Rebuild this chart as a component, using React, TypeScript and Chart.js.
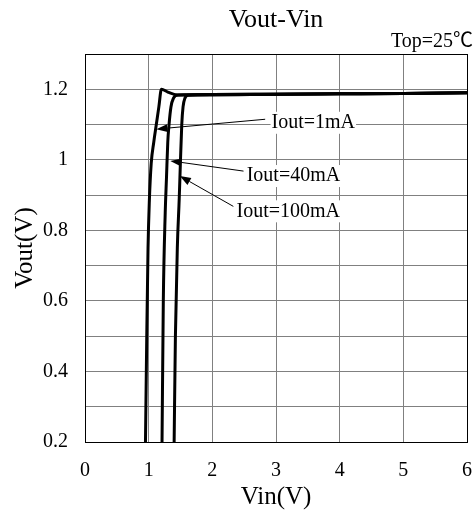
import { useEffect, useRef } from 'react';
import { Chart, registerables } from 'chart.js';

Chart.register(...registerables);

const FONT = "'Liberation Serif', 'Times New Roman', serif";
const CJK_FONT = "'Liberation Serif', 'Noto Sans CJK SC', serif";

const TITLE = 'Vout-Vin';
const CONDITION = 'Top=25℃';
const X_TITLE = 'Vin(V)';
const Y_TITLE = 'Vout(V)';
const X_MIN = 0;
const X_MAX = 6;
const Y_MIN = 0.2;
const Y_MAX = 1.3;
const Y_TICK_LABELS = [0.2, 0.4, 0.6, 0.8, 1, 1.2];

const SERIES_NAMES = ['Iout=1mA', 'Iout=40mA', 'Iout=100mA'];

const VIN_1MA = [0.95, 0.97, 0.99, 1.01, 1.04, 1.08, 1.12, 1.16, 1.2, 1.3, 1.45, 2, 3, 4, 5, 6];
const VOUT_1MA = [0.2, 0.5, 0.75, 0.88, 0.99, 1.05, 1.1, 1.15, 1.2, 1.192, 1.184, 1.184, 1.186, 1.187, 1.188, 1.19];

const VIN_40MA = [1.21, 1.23, 1.26, 1.28, 1.3, 1.32, 1.35, 1.39, 1.46, 2, 3, 4, 5, 6];
const VOUT_40MA = [0.2, 0.6, 0.85, 0.95, 1.05, 1.1, 1.15, 1.175, 1.184, 1.185, 1.186, 1.187, 1.188, 1.19];

const VIN_100MA = [1.4, 1.42, 1.45, 1.48, 1.5, 1.52, 1.54, 1.57, 1.62, 2, 3, 4, 5, 6];
const VOUT_100MA = [0.2, 0.5, 0.75, 0.89, 1.0, 1.1, 1.15, 1.175, 1.183, 1.185, 1.186, 1.187, 1.188, 1.19];

// Annotation anchors (data coordinates)
const LABEL_X = [2.93, 2.54, 2.38];
const LABEL_Y = [1.105, 0.954, 0.854];
const TAIL_X = [2.83, 2.49, 2.33];
const TAIL_Y = [1.115, 0.968, 0.868];
const TIP_X = [1.12, 1.34, 1.49];
const TIP_Y = [1.087, 0.997, 0.954];

const toPoints = (xs: number[], ys: number[]) => xs.map((x, i) => ({ x, y: ys[i] }));

const decorPlugin = {
  id: 'decor',
  afterDatasetsDraw(chart: any) {
    const { ctx, chartArea, scales } = chart;
    const xs = scales.x;
    const ys = scales.y;
    ctx.save();
    for (let i = 0; i < SERIES_NAMES.length; i++) {
      const tx = xs.getPixelForValue(TAIL_X[i]);
      const ty = ys.getPixelForValue(TAIL_Y[i]);
      const px = xs.getPixelForValue(TIP_X[i]);
      const py = ys.getPixelForValue(TIP_Y[i]);
      const ang = Math.atan2(py - ty, px - tx);
      const len = 11;
      const hw = 4;
      const bx = px - len * Math.cos(ang);
      const by = py - len * Math.sin(ang);
      ctx.strokeStyle = '#000';
      ctx.lineWidth = 1;
      ctx.beginPath();
      ctx.moveTo(tx, ty);
      ctx.lineTo(bx, by);
      ctx.stroke();
      ctx.fillStyle = '#000';
      ctx.beginPath();
      ctx.moveTo(px, py);
      ctx.lineTo(bx + hw * Math.sin(ang), by - hw * Math.cos(ang));
      ctx.lineTo(bx - hw * Math.sin(ang), by + hw * Math.cos(ang));
      ctx.closePath();
      ctx.fill();

      const lx = xs.getPixelForValue(LABEL_X[i]);
      const ly = ys.getPixelForValue(LABEL_Y[i]);
      ctx.font = `20px ${FONT}`;
      const w = ctx.measureText(SERIES_NAMES[i]).width;
      ctx.fillStyle = '#fff';
      ctx.fillRect(lx - 1, ly - 11, w + 2, 22);
      ctx.fillStyle = '#000';
      ctx.textAlign = 'left';
      ctx.textBaseline = 'middle';
      ctx.fillText(SERIES_NAMES[i], lx, ly);
    }
    ctx.strokeStyle = '#000';
    ctx.lineWidth = 1;
    ctx.strokeRect(
      Math.round(chartArea.left) + 0.5,
      Math.round(chartArea.top) + 0.5,
      Math.round(chartArea.right - chartArea.left),
      Math.round(chartArea.bottom - chartArea.top)
    );
    ctx.fillStyle = '#000';
    ctx.textBaseline = 'alphabetic';
    ctx.textAlign = 'center';
    ctx.font = `26px ${FONT}`;
    ctx.fillText(TITLE, (chartArea.left + chartArea.right) / 2, 27);
    ctx.textAlign = 'right';
    ctx.font = `20px ${CJK_FONT}`;
    ctx.fillText(CONDITION, chart.width - 2, 47);
    ctx.restore();
  },
};

export default function App() {
  const ref = useRef<HTMLCanvasElement | null>(null);
  useEffect(() => {
    document.body.style.margin = '0';
    const canvas = ref.current;
    if (!canvas) return;
    const mk = (xs: number[], ys: number[], label: string) => ({
      label,
      data: toPoints(xs, ys),
      borderColor: '#000',
      backgroundColor: '#000',
      borderWidth: 3,
      pointRadius: 0,
      fill: false,
      showLine: true,
      cubicInterpolationMode: 'monotone' as const,
    });
    const chart = new Chart(canvas, {
      type: 'scatter',
      data: {
        datasets: [
          mk(VIN_1MA, VOUT_1MA, SERIES_NAMES[0]),
          mk(VIN_40MA, VOUT_40MA, SERIES_NAMES[1]),
          mk(VIN_100MA, VOUT_100MA, SERIES_NAMES[2]),
        ],
      },
      options: {
        animation: false,
        responsive: true,
        maintainAspectRatio: false,
        layout: { padding: { top: 54, right: 8, left: 0, bottom: 0 } },
        plugins: {
          legend: { display: false },
          tooltip: { enabled: false },
          title: { display: false },
        },
        scales: {
          x: {
            type: 'linear',
            min: X_MIN,
            max: X_MAX,
            ticks: {
              stepSize: 1,
              color: '#000',
              font: { family: FONT, size: 20 },
              padding: 17,
              callback: (v: any) => String(v),
            },
            grid: { color: '#808080', drawTicks: false, lineWidth: 1 },
            border: { display: false },
            title: {
              display: true,
              text: X_TITLE,
              color: '#000',
              font: { family: FONT, size: 25 },
              padding: { top: 0, bottom: 1 },
            },
            afterFit: (s: any) => {
              s.height = 71;
              s.paddingLeft = 0;
              s.paddingRight = 0;
            },
          },
          y: {
            type: 'linear',
            min: Y_MIN,
            max: Y_MAX,
            ticks: {
              stepSize: 0.1,
              color: '#000',
              font: { family: FONT, size: 20 },
              padding: 17,
              callback: (v: any) => {
                const r = Math.round(Number(v) * 10) / 10;
                return Y_TICK_LABELS.some((t) => Math.abs(t - r) < 1e-6) ? String(r) : '';
              },
            },
            grid: { color: '#808080', drawTicks: false, lineWidth: 1 },
            border: { display: false },
            title: {
              display: true,
              text: Y_TITLE,
              color: '#000',
              font: { family: FONT, size: 25 },
              padding: { top: 10, bottom: 0 },
            },
            afterFit: (s: any) => {
              s.width = 85;
              s.paddingTop = 0;
              s.paddingBottom = 0;
            },
          },
        },
      } as any,
      plugins: [decorPlugin],
    });
    return () => chart.destroy();
  }, []);
  return (
    <div style={{ position: 'relative', width: 475, height: 513 }}>
      <canvas ref={ref} />
    </div>
  );
}
